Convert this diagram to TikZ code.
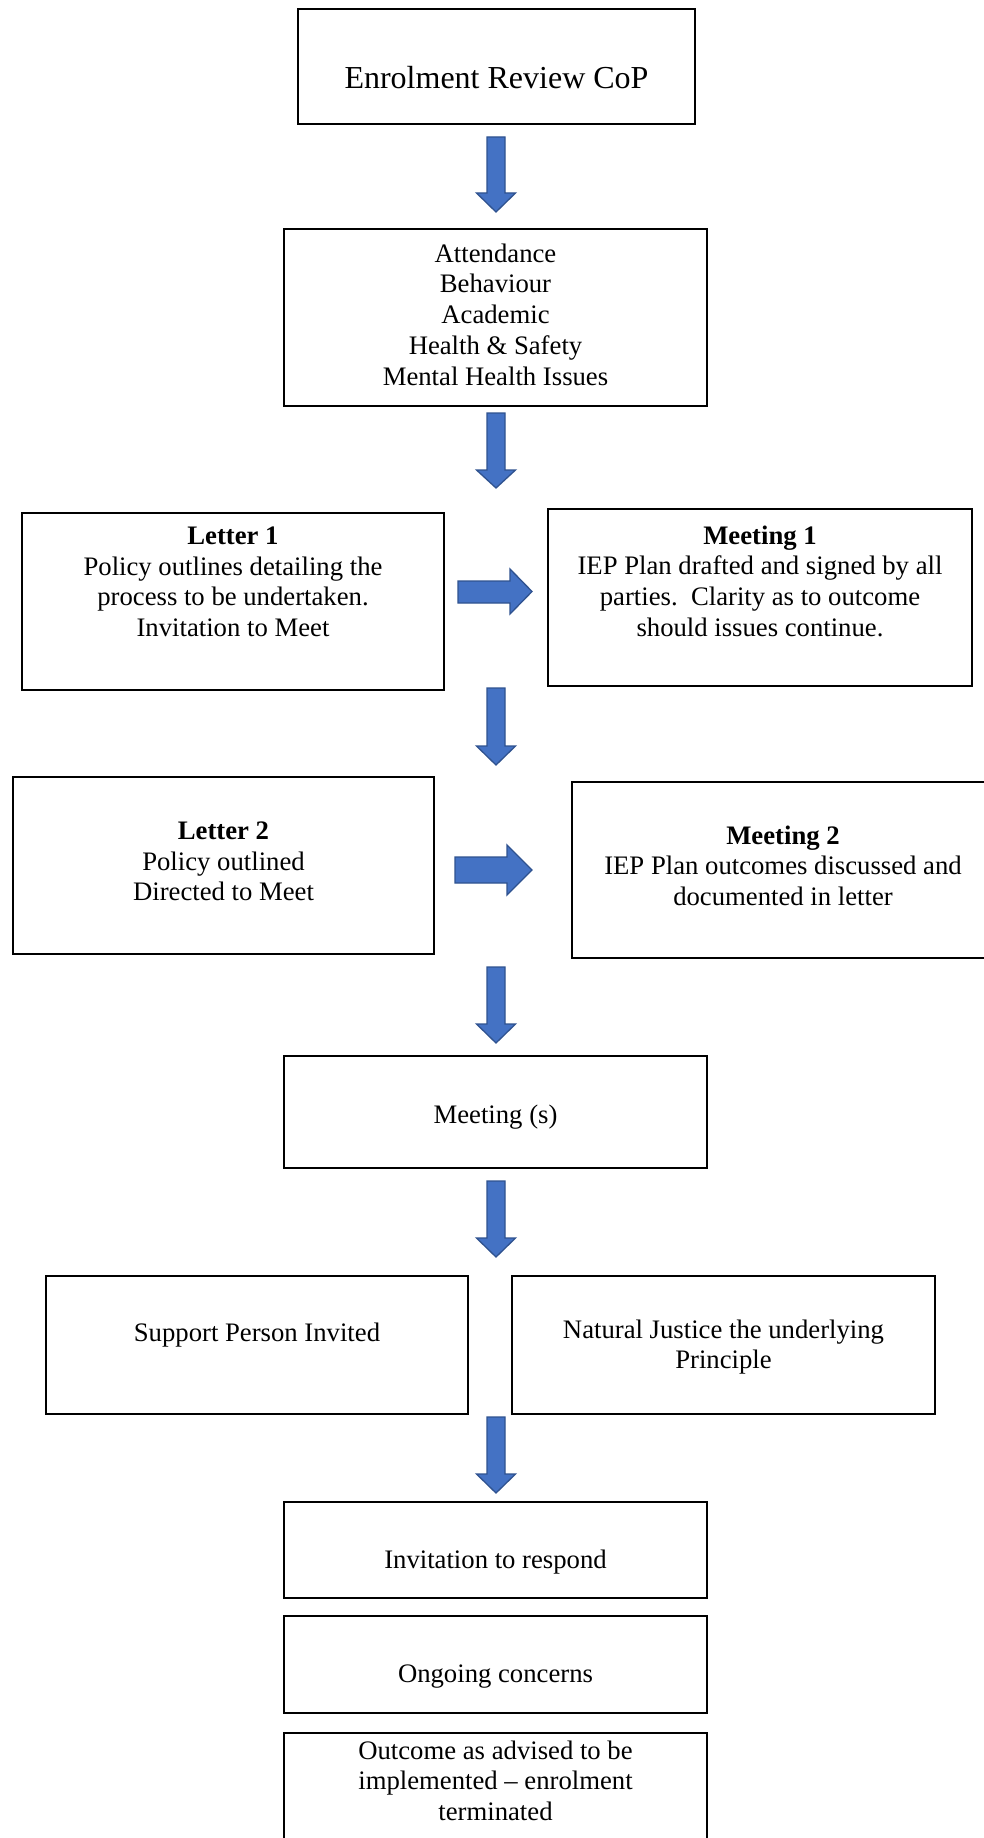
\documentclass[tikz,border=0pt]{standalone}
\usepackage{fontspec}
\setmainfont{Liberation Serif}
\begin{document}
\begin{tikzpicture}[x=1pt,y=-1pt,
  box/.style={draw=black,line width=1.8pt,fill=white},
  txt/.style={inner sep=0pt,anchor=north,align=center,font=\fontsize{26.7}{30.7}\selectfont,execute at begin node=\strut},
  bigtxt/.style={inner sep=0pt,anchor=north,align=center,font=\fontsize{32}{36.8}\selectfont,execute at begin node=\strut},
  arr/.style={fill=arrfill,draw=arrdraw,line width=1.3pt,line join=miter}]
\definecolor{arrfill}{HTML}{4472C4}
\definecolor{arrdraw}{HTML}{2F528F}
\newcommand\dnarrow[4]{\filldraw[arr] ({#1-9},#2) -- ({#1+9},#2) -- ({#1+9},#3) -- ({#1+19.5},#3) -- (#1,#4) -- ({#1-19.5},#3) -- ({#1-9},#3) -- cycle;}
\newcommand\rtarrow[7]{\filldraw[arr] (#1,#3) -- (#2,#3) -- (#2,#5) -- (#7,{(#5+#6)/2}) -- (#2,#6) -- (#2,#4) -- (#1,#4) -- cycle;}
\useasboundingbox (0,0) rectangle (984,1838);
\clip (0,0) rectangle (984,1838);
\fill[white] (0,0) rectangle (984,1838);
% boxes
\draw[box] (298,9) rectangle (695,124);
\draw[box] (284,229) rectangle (707,406);
\draw[box] (22,513) rectangle (444,690);
\draw[box] (548,509) rectangle (972,686);
\draw[box] (13,777) rectangle (434,954);
\draw[box] (572,782) rectangle (994,958);
\draw[box] (284,1056) rectangle (707,1168);
\draw[box] (46,1276) rectangle (468,1414);
\draw[box] (512,1276) rectangle (935,1414);
\draw[box] (284,1502) rectangle (707,1598);
\draw[box] (284,1616) rectangle (707,1713);
\draw[box] (284,1733) rectangle (707,1870);
% texts
\node[bigtxt] (t1) at (496.5,62.2) {Enrolment Review CoP};
\node[txt] (t2) at (495.5,243.5) {Attendance\\Behaviour\\Academic\\Health \& Safety\\Mental Health Issues};
\node[txt] (t3) at (233,526.5) {\textbf{Letter 1}\\Policy outlines detailing the\\process to be undertaken.\\Invitation to Meet};
\node[txt] (t4) at (760,525.5) {\textbf{Meeting 1}\\IEP Plan drafted and signed by all\\parties.\ \ Clarity as to outcome\\should issues continue.};
\node[txt] (t5) at (223.5,821.5) {\textbf{Letter 2}\\Policy outlined\\Directed to Meet};
\node[txt] (t6) at (783,825.5) {\textbf{Meeting 2}\\IEP Plan outcomes discussed and\\documented in letter};
\node[txt] (t7) at (495.5,1101.5) {Meeting (s)};
\node[txt] (t8) at (257,1319.5) {Support Person Invited};
\node[txt] (t9) at (723.5,1319.5) {Natural Justice the underlying\\Principle};
\node[txt] (t10) at (495.5,1546.5) {Invitation to respond};
\node[txt] (t11) at (495.5,1660.5) {Ongoing concerns};
\node[txt] (t12) at (495.5,1740.5) {Outcome as advised to be\\implemented -- enrolment\\terminated};
% arrows
\dnarrow{496}{137}{193}{212}
\dnarrow{496}{413}{470}{488}
\dnarrow{496}{688}{746}{765}
\dnarrow{496}{967}{1024}{1043}
\dnarrow{496}{1181}{1238}{1257}
\dnarrow{496}{1417}{1474}{1493}
\rtarrow{458}{510}{581}{603}{569}{614}{532}
\rtarrow{455}{507}{857}{883}{845}{895}{532}
\end{tikzpicture}
\end{document}
